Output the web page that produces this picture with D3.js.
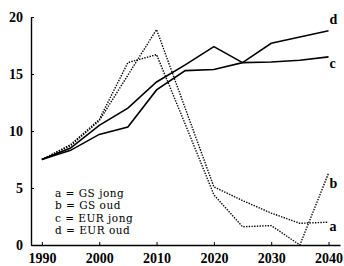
<!DOCTYPE html>
<html>
<head>
<meta charset="utf-8">
<script src="https://cdn.jsdelivr.net/npm/d3@7"></script>
<style>
  html, body { margin: 0; padding: 0; background: #fff; }
  svg { display: block; }
</style>
</head>
<body>
<svg id="chart" width="344" height="266"></svg>
<script>
// ---- data ----
const years = [1990, 1995, 2000, 2005, 2010, 2015, 2020, 2025, 2030, 2035, 2040];
const gsJong  = [7.5, 8.7, 10.9, 14.9, 18.9, 12.0, 5.1, 3.9, 2.8, 1.9, 2.0];   // a
const gsOud   = [7.5, 8.8, 11.0, 16.0, 16.7, 10.6, 4.4, 1.6, 1.7, 0.0, 6.3];   // b
const eurJong = [7.5, 8.3, 9.7, 10.35, 13.6, 15.3, 15.4, 16.0, 16.05, 16.2, 16.5]; // c
const eurOud  = [7.5, 8.5, 10.5, 12.0, 14.3, 15.8, 17.4, 16.0, 17.7, 18.25, 18.8]; // d
const xTicks = [1990, 2000, 2010, 2020, 2030, 2040];
const yTicks = [0, 5, 10, 15, 20];
const legendLabels = ["a = GS jong", "b = GS oud", "c = EUR jong", "d = EUR oud"];

const series = [
  { key: "a", values: gsJong, dotted: true },
  { key: "b", values: gsOud, dotted: true },
  { key: "c", values: eurJong, dotted: false },
  { key: "d", values: eurOud, dotted: false }
];

const svg = d3.select("#chart");
const x = d3.scaleLinear().domain([1988.1, 2042]).range([31, 340]);
const y = d3.scaleLinear().domain([0, 20]).range([245, 17]);

// axes
const xAxis = svg.append("g")
  .attr("transform", `translate(0,${y(0)})`)
  .call(d3.axisBottom(x).tickValues(xTicks).tickFormat(d3.format("d"))
        .tickSize(-3).tickSizeOuter(0).tickPadding(8));
const yAxis = svg.append("g")
  .attr("transform", `translate(${x.range()[0]},0)`)
  .call(d3.axisLeft(y).tickValues(yTicks).tickSize(-3).tickSizeOuter(0).tickPadding(8));

[xAxis, yAxis].forEach(g => {
  g.select(".domain").attr("stroke", "#000").attr("stroke-width", 1.4);
  g.selectAll(".tick line").attr("stroke", "#000").attr("stroke-width", 1);
  g.selectAll(".tick text")
    .attr("font-family", "'Liberation Serif', serif")
    .attr("font-weight", "bold")
    .attr("font-size", 14)
    .attr("fill", "#000");
});
yAxis.selectAll(".tick text").attr("dy", "0.35em");

// lines
const line = d3.line()
  .x((d, i) => x(years[i]))
  .y(d => y(d));

svg.selectAll("path.series")
  .data(series)
  .enter().append("path")
  .attr("class", "series")
  .attr("fill", "none")
  .attr("stroke", "#000")
  .attr("stroke-width", d => d.dotted ? 1.4 : 1.6)
  .attr("stroke-dasharray", d => d.dotted ? "1.4,1.3" : null)
  .attr("stroke-linejoin", "miter")
  .attr("d", d => line(d.values));

// end labels
const endOffsets = { a: [1, 9], b: [1, 15], c: [1, 11], d: [1, -7] };
svg.selectAll("text.endlab")
  .data(series)
  .enter().append("text")
  .attr("class", "endlab")
  .attr("x", d => x(years[years.length - 1]) + endOffsets[d.key][0])
  .attr("y", d => y(d.values[d.values.length - 1]) + endOffsets[d.key][1])
  .attr("font-family", "'Liberation Serif', serif")
  .attr("font-weight", "bold")
  .attr("font-size", 14)
  .text(d => d.key);

// legend
svg.selectAll("text.legend")
  .data(legendLabels)
  .enter().append("text")
  .attr("class", "legend")
  .attr("x", 55)
  .attr("y", (d, i) => 197 + i * 12.3)
  .attr("font-family", "'DejaVu Serif', serif")
  .attr("font-size", 10.5)
  .attr("letter-spacing", 0.5)
  .attr("fill", "#000")
  .text(d => d);
</script>
</body>
</html>
